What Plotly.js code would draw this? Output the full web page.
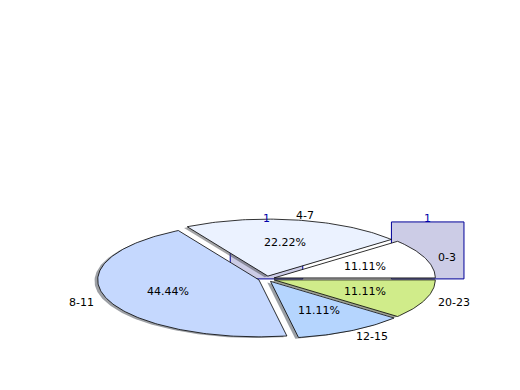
<!DOCTYPE html>
<html>
<head>
<meta charset="utf-8">
<script src="https://cdn.plot.ly/plotly-3.0.1.min.js"></script>
<style>html,body{margin:0;padding:0;background:#fff;}#chart{width:520px;height:390px;}</style>
</head>
<body>
<div id="chart"></div>
<script>
// ---- data ----
const categories = ['0-3', '4-7', '8-11', '12-15', '20-23'];
const counts = [1, 2, 4, 1, 1];
const explode = [0.05, 0.05, 0.05, 0.05, 0.05];
const sliceColors = ['#ffffff', '#ebf2ff', '#c5d8fe', '#b5d5fe', '#d0ec8a'];
const barX = [0, 1];
const barY = [1, 1];
const barLabels = ['1', '1'];

// ---- build ----
const FONT = 'DejaVu Sans, sans-serif';
const FS = 11;
const total = counts.reduce((a, b) => a + b, 0);
const traces = [];
const annotations = [];

traces.push({
  type: 'bar', x: barX, y: barY, width: 0.45,
  marker: {color: '#ccccE6', line: {color: '#000099', width: 1}},
  hoverinfo: 'skip', showlegend: false
});
barX.forEach((bx, i) => {
  annotations.push({x: bx, y: barY[i], xref: 'x', yref: 'y', text: barLabels[i],
    showarrow: false, yanchor: 'bottom', yshift: -5,
    font: {family: FONT, size: FS, color: '#0000aa'}});
});

function hexToRgb(h) {
  return [parseInt(h.substr(1, 2), 16), parseInt(h.substr(3, 2), 16), parseInt(h.substr(5, 2), 16)];
}

const wedges = [];
let cum = 0;
counts.forEach((v, i) => {
  const t1 = cum / total * 360;
  cum += v;
  const t2 = cum / total * 360;
  const mid = (t1 + t2) / 2 * Math.PI / 180;
  const ox = explode[i] * Math.cos(mid), oy = explode[i] * Math.sin(mid);
  const xs = [ox], ys = [oy];
  const n = Math.max(2, Math.ceil(t2 - t1));
  for (let k = 0; k <= n; k++) {
    const a = (t1 + (t2 - t1) * k / n) * Math.PI / 180;
    xs.push(ox + Math.cos(a));
    ys.push(oy + Math.sin(a));
  }
  xs.push(ox); ys.push(oy);
  wedges.push({xs, ys, mid, ox, oy, i, v});
});

// shadows
wedges.forEach(w => {
  const rgb = hexToRgb(sliceColors[w.i]).map(c => Math.round(c * 0.3));
  traces.push({
    type: 'scatter', mode: 'lines', x: w.xs.map(x => x - 0.02), y: w.ys.map(y => y - 0.02),
    fill: 'toself', fillcolor: `rgba(${rgb[0]},${rgb[1]},${rgb[2]},0.5)`,
    line: {width: 0}, hoverinfo: 'skip', showlegend: false
  });
});
// wedges
wedges.forEach(w => {
  traces.push({
    type: 'scatter', mode: 'lines', x: w.xs, y: w.ys,
    fill: 'toself', fillcolor: sliceColors[w.i],
    line: {color: '#000000', width: 0.8}, hoverinfo: 'skip', showlegend: false
  });
});
// labels
wedges.forEach(w => {
  const c = Math.cos(w.mid), s = Math.sin(w.mid);
  const pct = (w.v / total * 100).toFixed(2) + '%';
  annotations.push({x: w.ox + 0.6 * c, y: w.oy + 0.6 * s, xref: 'x', yref: 'y', text: pct,
    showarrow: false, xanchor: 'center', yanchor: 'middle',
    font: {family: FONT, size: FS, color: '#000'}});
  const lx = w.ox + 1.1 * c, ly = w.oy + 1.1 * s;
  const left = lx >= 0;
  annotations.push({x: lx, y: ly, xref: 'x', yref: 'y', text: categories[w.i],
    showarrow: false, xanchor: left ? 'left' : 'right', yanchor: 'middle', borderpad: 0,
    xshift: left ? -4 : 3, yshift: -1,
    font: {family: FONT, size: FS, color: '#000'}});
});

const layout = {
  width: 520, height: 390,
  margin: {l: 65, r: 52, t: 47, b: 43, pad: 0},
  paper_bgcolor: '#ffffff', plot_bgcolor: '#ffffff',
  xaxis: {range: [-1.25, 1.25], visible: false, fixedrange: true},
  yaxis: {range: [-1.195, 4.07], visible: false, fixedrange: true},
  showlegend: false,
  annotations: annotations,
  font: {family: FONT}
};
Plotly.newPlot('chart', traces, layout, {staticPlot: true, displayModeBar: false});
</script>
</body>
</html>
